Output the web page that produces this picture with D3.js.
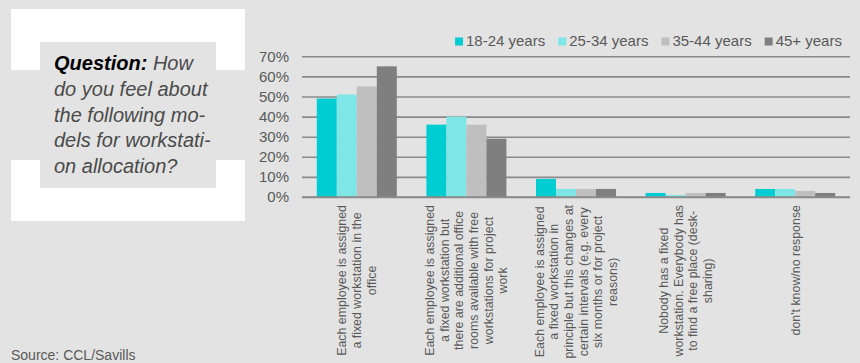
<!DOCTYPE html>
<html>
<head>
<meta charset="utf-8">
<script src="https://cdn.jsdelivr.net/npm/d3@7"></script>
<style>
  html, body { margin: 0; padding: 0; background: #e3e3e3; }
  svg { display: block; font-family: "Liberation Sans", Arial, sans-serif; }
</style>
</head>
<body>
<svg id="chart" width="860" height="363"></svg>
<script>
// Survey answers: share of respondents per age group
const categories = [
  ["Each employee is assigned", "a fixed workstation in the", "office"],
  ["Each employee is assigned", "a fixed workstation but", "there are additional office", "rooms available with free", "workstations for project", "work"],
  ["Each employee is assigned", "a fixed workstation in", "principle but this changes at", "certain intervals (e.g. every", "six months or for project", "reasons)"],
  ["Nobody has a fixed", "workstation. Everybody has", "to find a free place (desk-", "sharing)"],
  ["don't know/no response"]
];
const seriesNames = ["18-24 years", "25-34 years", "35-44 years", "45+ years"];
const age18to24 = [49, 36, 9, 2, 4];
const age25to34 = [51, 40, 4, 1, 4];
const age35to44 = [55, 36, 4, 2, 3];
const age45plus = [65, 29, 4, 2, 2];
const yTicks = [0, 10, 20, 30, 40, 50, 60, 70];
const colors = ["#00cdd1", "#7fe6e7", "#bfbfbf", "#7f7f7f"];

const series = [age18to24, age25to34, age35to44, age45plus];

const svg = d3.select("#chart");

// Question panel on the left
svg.append("rect").attr("x", 11).attr("y", 9).attr("width", 234).attr("height", 212).attr("fill", "#ffffff");
svg.append("rect").attr("x", 0).attr("y", 70).attr("width", 245).attr("height", 90).attr("fill", "#e3e3e3");
svg.append("rect").attr("x", 40).attr("y", 42).attr("width", 176).attr("height", 146).attr("fill", "#e3e3e3");

const qLines = ["How", "do you feel about", "the following mo-", "dels for workstati-", "on allocation?"];
const q = svg.append("text").attr("x", 54).attr("y", 70)
  .attr("font-size", 20).attr("font-style", "italic").attr("fill", "#4a4a4a");
qLines.forEach((t, i) => {
  const ts = q.append("tspan").attr("x", 54).attr("dy", i === 0 ? 0 : 25.8);
  if (i === 0) {
    ts.append("tspan").attr("font-weight", "bold").attr("fill", "#000").text("Question:");
    ts.append("tspan").text(" " + t);
  } else {
    ts.text(t);
  }
});

svg.append("text").attr("x", 11).attr("y", 360).attr("font-size", 14)
  .attr("fill", "#595959").text("Source: CCL/Savills");

// Chart area
const plotLeft = 302, plotRight = 850, plotTop = 56.3, plotBottom = 197;
const x0 = d3.scaleBand().domain(d3.range(categories.length)).range([plotLeft, plotRight]).paddingInner(0.27).paddingOuter(0.135);
const x1 = d3.scaleBand().domain(d3.range(series.length)).range([0, x0.bandwidth()]);
const y = d3.scaleLinear().domain([0, 70]).range([plotBottom, plotTop]);

const yAxis = d3.axisLeft(y).tickValues(yTicks).tickFormat(d => d + "%").tickSize(plotLeft - plotRight).tickPadding(13);
const gy = svg.append("g").attr("transform", `translate(${plotLeft},0)`).call(yAxis);
gy.select(".domain").remove();
gy.selectAll(".tick line").attr("stroke", "#8a8a8a").attr("stroke-width", 1.6);
gy.selectAll(".tick text").attr("font-size", 15).attr("fill", "#595959")
  .attr("font-family", "'Liberation Sans', Arial, sans-serif");

// Bars
const groups = svg.append("g").selectAll("g").data(categories).join("g")
  .attr("transform", (d, i) => `translate(${x0(i)},0)`);
groups.selectAll("rect").data((d, i) => series.map((s, k) => ({ k, v: s[i] }))).join("rect")
  .attr("x", d => x1(d.k))
  .attr("width", x1.bandwidth())
  .attr("y", d => y(d.v))
  .attr("height", d => plotBottom - y(d.v))
  .attr("fill", d => colors[d.k]);

// Baseline
svg.append("line").attr("x1", plotLeft).attr("x2", plotRight).attr("y1", plotBottom).attr("y2", plotBottom)
  .attr("stroke", "#8a8a8a").attr("stroke-width", 1.6);

// Rotated category labels
const lh = 14.7;
categories.forEach((lines, i) => {
  const cx = x0(i) + x0.bandwidth() / 2;
  const g = svg.append("g").attr("transform", `translate(${cx},205) rotate(-90)`);
  const texts = lines.map((t, j) => g.append("text")
    .attr("y", (j - (lines.length - 1) / 2) * lh)
    .attr("dy", "0.35em")
    .attr("font-size", 12.4).attr("fill", "#595959")
    .attr("text-anchor", "middle").text(t));
  const w = d3.max(texts, t => t.node().getComputedTextLength());
  texts.forEach(t => t.attr("x", -w / 2));
});

// Legend
let lx = 455;
seriesNames.forEach((name, k) => {
  svg.append("rect").attr("x", lx).attr("y", 37.5).attr("width", 8).attr("height", 8).attr("fill", colors[k]);
  const t = svg.append("text").attr("x", lx + 11).attr("y", 46).attr("font-size", 15)
    .attr("fill", "#595959").text(name);
  lx += 11 + t.node().getComputedTextLength() + 13;
});
</script>
</body>
</html>
